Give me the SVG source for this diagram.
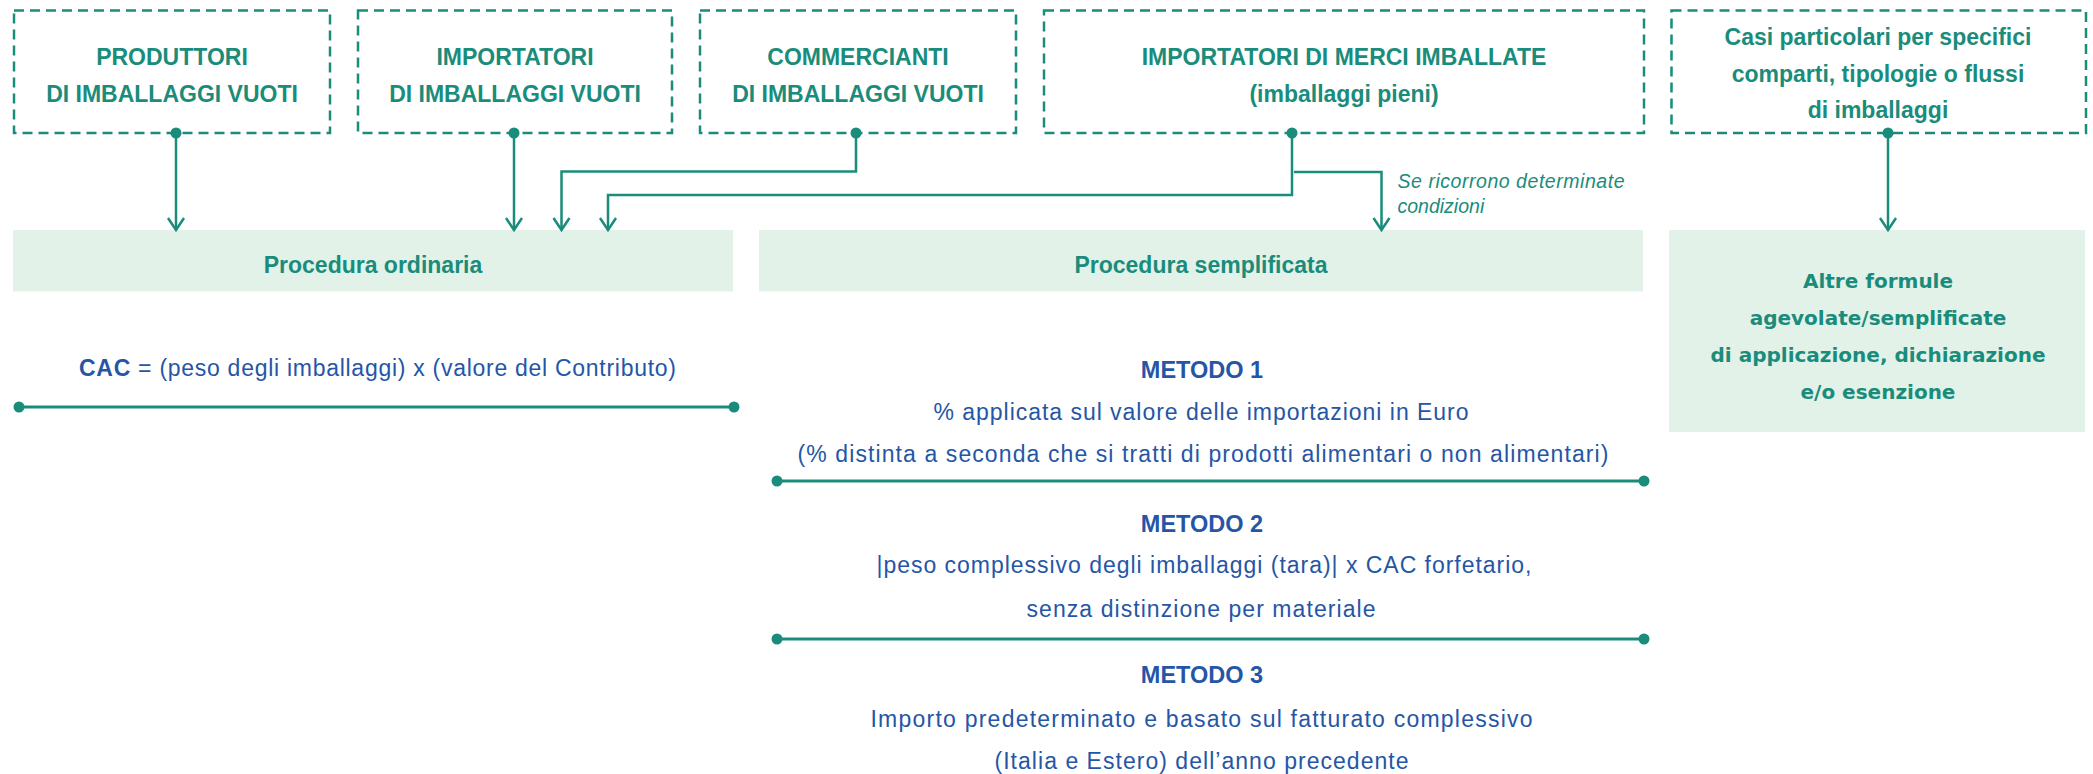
<svg xmlns="http://www.w3.org/2000/svg" width="2093" height="774" viewBox="0 0 2093 774">
<style>
.box{fill:#ffffff;stroke:#1a8c7b;stroke-width:2.5;stroke-dasharray:10 6}
.fill{fill:#e3f2e9}
.t{font-family:"Liberation Sans",Arial,sans-serif;font-weight:bold;font-size:23px;fill:#1a8c7b;text-anchor:middle}
.w{font-family:"DejaVu Sans",Verdana,sans-serif;font-weight:bold;font-size:20px;fill:#1a8c7b;text-anchor:middle}
.b{font-family:"Liberation Sans",Arial,sans-serif;font-size:23px;fill:#2556a6;text-anchor:middle}
.bb{font-family:"Liberation Sans",Arial,sans-serif;font-weight:bold;font-size:23.5px;fill:#2556a6;text-anchor:middle}
.i{font-family:"Liberation Sans",Arial,sans-serif;font-style:italic;font-size:19.5px;fill:#1a8c7b}
.ln{fill:none;stroke:#1a8c7b;stroke-width:2.5}
.sep{stroke:#1a8c7b;stroke-width:3}
.dot{fill:#1a8c7b}
</style>
<defs>
<marker id="arr" markerUnits="userSpaceOnUse" markerWidth="20" markerHeight="20" viewBox="-14 -10 16 20" refX="0" refY="0" orient="auto" overflow="visible">
<path d="M-12,-8 L0,0 L-12,8" fill="none" stroke="#1a8c7b" stroke-width="2.5"/>
</marker>
</defs>

<g id="produttori">
<rect class="box" x="14" y="10.5" width="316" height="122.5"/>
<text class="t" x="172" y="65">PRODUTTORI</text>
<text class="t" x="172" y="102">DI IMBALLAGGI VUOTI</text>
</g>
<g id="importatori">
<rect class="box" x="358" y="10.5" width="314" height="122.5"/>
<text class="t" x="515" y="65">IMPORTATORI</text>
<text class="t" x="515" y="102">DI IMBALLAGGI VUOTI</text>
</g>
<g id="commercianti">
<rect class="box" x="700" y="10.5" width="316" height="122.5"/>
<text class="t" x="858" y="65">COMMERCIANTI</text>
<text class="t" x="858" y="102">DI IMBALLAGGI VUOTI</text>
</g>
<g id="importatori-merci">
<rect class="box" x="1044" y="10.5" width="600" height="122.5"/>
<text class="t" x="1344" y="65">IMPORTATORI DI MERCI IMBALLATE</text>
<text class="t" x="1344" y="102">(imballaggi pieni)</text>
</g>
<g id="casi-particolari">
<rect class="box" x="1671.5" y="10.5" width="414.5" height="122.5"/>
<text class="t" x="1878" y="45">Casi particolari per specifici</text>
<text class="t" x="1878" y="82">comparti, tipologie o flussi</text>
<text class="t" x="1878" y="118">di imballaggi</text>
</g>

<g id="procedura-ordinaria">
<rect class="fill" x="13" y="230" width="720" height="61.5"/>
<text class="t" x="373" y="273">Procedura ordinaria</text>
<text class="b" x="377.5" y="376" textLength="597"><tspan font-weight="bold">CAC</tspan> = (peso degli imballaggi) x (valore del Contributo)</text>
</g>
<g id="procedura-semplificata">
<rect class="fill" x="759" y="230" width="884" height="61.5"/>
<text class="t" x="1201" y="273">Procedura semplificata</text>
</g>
<g id="metodo-1">
<text class="bb" x="1202" y="378">METODO 1</text>
<text class="b" x="1201" y="420" textLength="535">% applicata sul valore delle importazioni in Euro</text>
<text class="b" x="1203" y="462" textLength="811">(% distinta a seconda che si tratti di prodotti alimentari o non alimentari)</text>
</g>
<g id="metodo-2">
<text class="bb" x="1202" y="532">METODO 2</text>
<text class="b" x="1204" y="573" textLength="655">|peso complessivo degli imballaggi (tara)| x CAC forfetario,</text>
<text class="b" x="1201" y="617" textLength="349">senza distinzione per materiale</text>
</g>
<g id="metodo-3">
<text class="bb" x="1202" y="683">METODO 3</text>
<text class="b" x="1201.5" y="727" textLength="662">Importo predeterminato e basato sul fatturato complessivo</text>
<text class="b" x="1201.5" y="769" textLength="414">(Italia e Estero) dell’anno precedente</text>
</g>
<g id="altre-formule">
<rect class="fill" x="1669" y="230" width="416" height="202"/>
<text class="w" x="1878" y="288">Altre formule</text>
<text class="w" x="1878" y="325">agevolate/semplificate</text>
<text class="w" x="1878" y="362">di applicazione, dichiarazione</text>
<text class="w" x="1878" y="399">e/o esenzione</text>
</g>

<g id="connectors">
<path class="ln" d="M176,133 V230" marker-end="url(#arr)"/>
<path class="ln" d="M514,133 V230" marker-end="url(#arr)"/>
<path class="ln" d="M856,133 V171.5 H561.5 V230" marker-end="url(#arr)"/>
<path class="ln" d="M1292,133 V195 H608 V230" marker-end="url(#arr)"/>
<path class="ln" d="M1294,172 H1381.5 V230" marker-end="url(#arr)"/>
<path class="ln" d="M1888,133 V230" marker-end="url(#arr)"/>
<circle class="dot" cx="176" cy="133" r="5.5"/>
<circle class="dot" cx="514" cy="133" r="5.5"/>
<circle class="dot" cx="856" cy="133" r="5.5"/>
<circle class="dot" cx="1292" cy="133" r="5.5"/>
<circle class="dot" cx="1888" cy="133" r="5.5"/>
<text class="i" x="1397.5" y="188" textLength="227">Se ricorrono determinate</text>
<text class="i" x="1397.5" y="213">condizioni</text>
<line class="sep" x1="19" y1="407" x2="734" y2="407"/>
<circle class="dot" cx="19" cy="407" r="5.5"/>
<circle class="dot" cx="734" cy="407" r="5.5"/>
<line class="sep" x1="777" y1="481" x2="1644" y2="481"/>
<circle class="dot" cx="777" cy="481" r="5.5"/>
<circle class="dot" cx="1644" cy="481" r="5.5"/>
<line class="sep" x1="777" y1="639" x2="1644" y2="639"/>
<circle class="dot" cx="777" cy="639" r="5.5"/>
<circle class="dot" cx="1644" cy="639" r="5.5"/>
</g>
</svg>
